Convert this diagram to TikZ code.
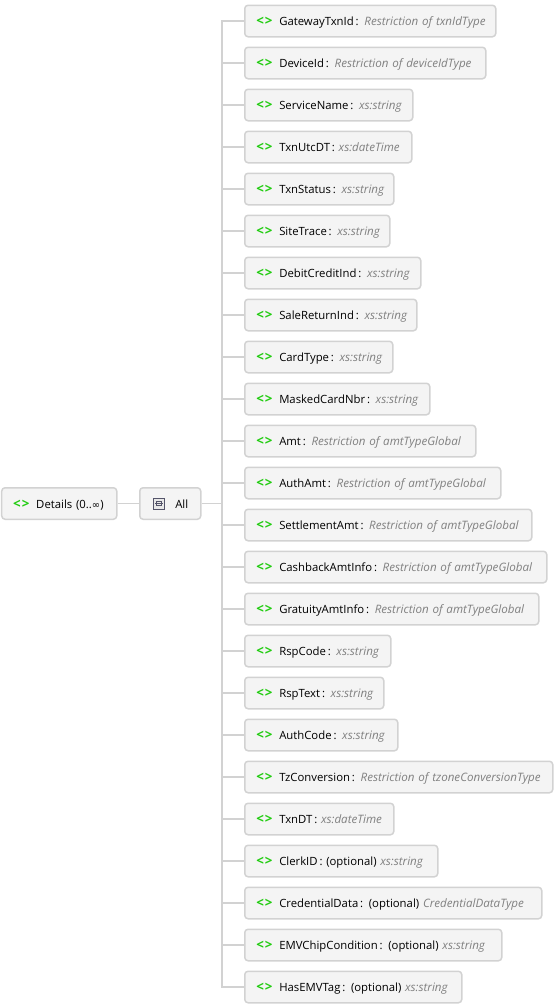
\documentclass[tikz,border=0pt]{standalone}
\usepackage{fontspec}
\setmainfont{Open Sans}
\newfontfamily\symfont{DejaVu Sans}
\usepackage{tikz}
\usetikzlibrary{positioning}
\definecolor{boxfill}{HTML}{F4F4F4}
\definecolor{boxline}{HTML}{D2D2D2}
\definecolor{tagcolor}{HTML}{22CC11}
\definecolor{typecolor}{HTML}{808080}
\definecolor{iconline}{HTML}{55556A}
\newlength{\pxunit}
\setlength{\pxunit}{0.75pt}
\newcommand{\eltag}{\makebox[23\pxunit][l]{\textcolor{tagcolor}{\fontsize{10pt}{10pt}\selectfont\textbf{<\hspace{0.8pt}>}}}}
\begin{document}
\begin{tikzpicture}[
  x=0.75pt, y=-0.75pt,
  elbox/.style={draw=boxline, line width=1.5\pxunit, rounded corners=2.5pt, fill=boxfill, anchor=west, align=left, minimum height=31.5\pxunit, inner ysep=0pt, inner xsep=11.5\pxunit, text height=7.2pt, text depth=0.4pt, font=\fontsize{8.5pt}{10pt}\selectfont},
  link/.style={draw=boxline, line width=1.5\pxunit}
]
\useasboundingbox (0, 0) rectangle (554, 1008);

% Draw root element and compositor
\node[elbox, text width=92\pxunit] (details) at (1, 503.5) {\eltag Details (0..{\symfont\fontsize{7.5pt}{10pt}\selectfont ∞})};
\node[elbox, text width=38\pxunit] (all) at (139, 503.5) {\hspace{24\pxunit}All};
\node[draw=iconline, fill=boxline!50, minimum size=11\pxunit, inner sep=0pt, line width=0.9\pxunit] (allicon) at (159, 503.5) {};
\draw[iconline, line width=0.9\pxunit] ([xshift=-4\pxunit]allicon.center) -- ([xshift=4\pxunit]allicon.center);
\draw[iconline, line width=0.9\pxunit] ([xshift=-2.5\pxunit,yshift=-2\pxunit]allicon.center) rectangle ([xshift=2.5\pxunit,yshift=2\pxunit]allicon.center);

% Trunk
\coordinate (trunk) at (222, 503.5);
\draw[link] (details) -- (all);
\draw[link] (all) -- (trunk);

% Draw child elements
\foreach \elname/\elopt/\elright/\eltypename [count=\i from 0] in {
  GatewayTxnId//496/Restriction of txnIdType,
  DeviceId//486/Restriction of deviceIdType,
  ServiceName//413/xs:string,
  TxnUtcDT//412/xs:dateTime,
  TxnStatus//394/xs:string,
  SiteTrace//390/xs:string,
  DebitCreditInd//421/xs:string,
  SaleReturnInd//417/xs:string,
  CardType//393/xs:string,
  MaskedCardNbr//430/xs:string,
  Amt//476/Restriction of amtTypeGlobal,
  AuthAmt//501/Restriction of amtTypeGlobal,
  SettlementAmt//532/Restriction of amtTypeGlobal,
  CashbackAmtInfo//547/Restriction of amtTypeGlobal,
  GratuityAmtInfo//539/Restriction of amtTypeGlobal,
  RspCode//391/xs:string,
  RspText//384/xs:string,
  AuthCode//398/xs:string,
  TzConversion//553/Restriction of tzoneConversionType,
  TxnDT//394/xs:dateTime,
  ClerkID/(optional)~/438/xs:string,
  CredentialData/(optional)~/542/CredentialDataType,
  EMVChipCondition/(optional)~/502/xs:string,
  HasEMVTag/(optional)~/462/xs:string%
} {
  \pgfmathsetmacro\elwd{(\elright-245-23)*0.75}
  \pgfmathsetmacro\elrow{21+42*\i}
  \node[elbox, text width=\elwd pt] (el\i) at (244, \elrow) {\makebox[0pt][l]{\eltag\elname\,: \elopt\textcolor{typecolor}{\fontsize{8.7pt}{10pt}\selectfont\textit{\eltypename}}}};
  \draw[link] (trunk) |- (el\i.west);
}
\end{tikzpicture}
\end{document}
